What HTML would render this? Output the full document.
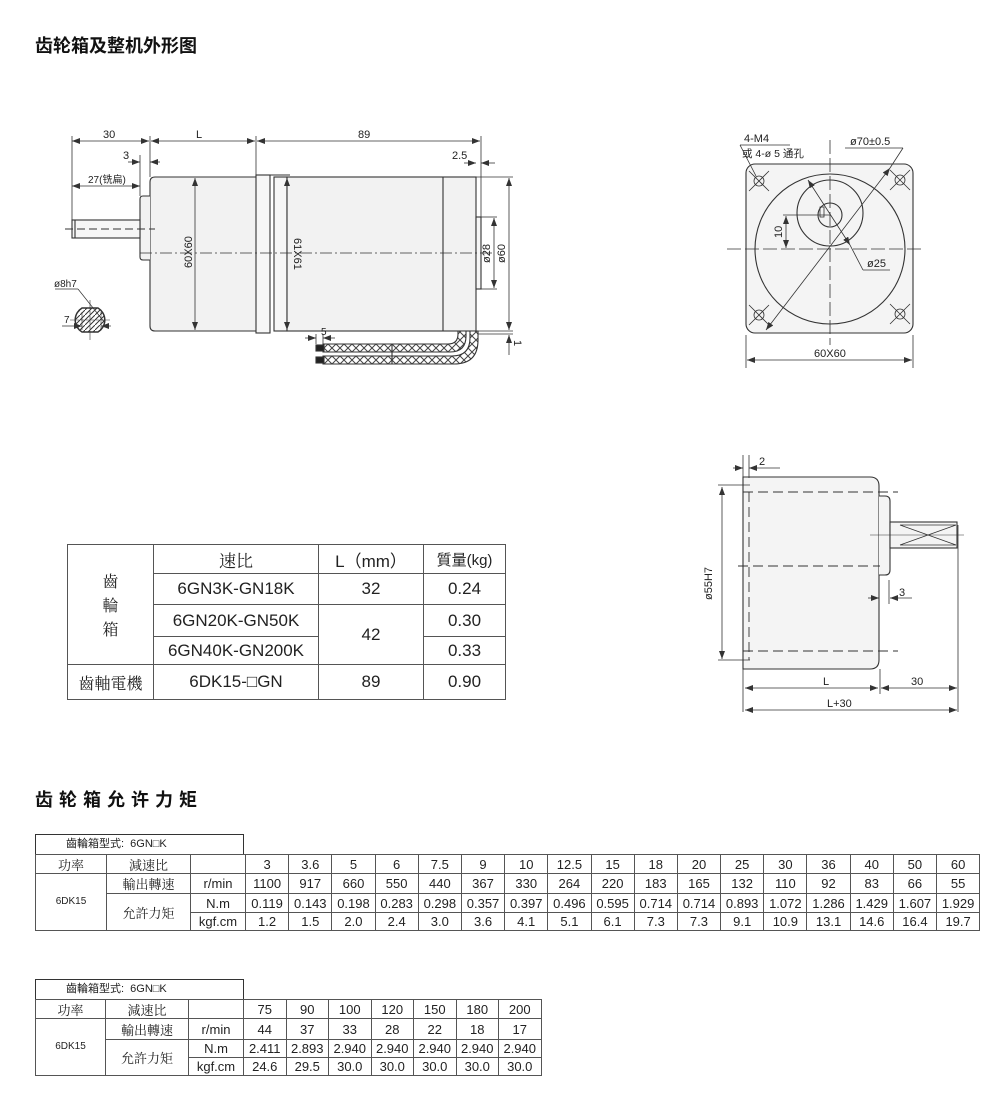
<!DOCTYPE html>
<html><head><meta charset="utf-8"><style>
body{margin:0;background:#fff;}
#w{position:relative;width:1000px;height:1098px;overflow:hidden;background:#fff;font-family:"Liberation Sans","Noto Sans CJK SC",sans-serif;color:#222;}
table{position:absolute;border-collapse:collapse;table-layout:fixed;}
td{border:1px solid #555;text-align:center;padding:0;white-space:nowrap;overflow:hidden;}
.t1{font-family:"Liberation Sans","Noto Sans CJK TC",sans-serif;border:1.5px solid #333;}
.t1 td{font-size:17px;}
.tb{font-size:13px;border:1.5px solid #333;}
.tb td{font-size:13px;line-height:1;}
.hdr{position:absolute;border:1.5px solid #333;border-bottom:none;font-size:11px;box-sizing:border-box;padding-left:30px;line-height:19px;font-family:"Liberation Sans","Noto Sans CJK TC",sans-serif;}
.cjk{font-family:"Noto Serif CJK SC","Noto Sans CJK TC",serif;}
</style></head><body><div id="w">
<svg width="1000" height="1098" style="position:absolute;left:0;top:0" font-family="Liberation Sans, Noto Sans CJK SC, sans-serif">
<defs>
<marker id="a" markerWidth="8" markerHeight="6" refX="8" refY="3" orient="auto-start-reverse" markerUnits="userSpaceOnUse"><path d="M0,0 L8,3 L0,6z" fill="#333"/></marker>
<pattern id="hx" width="8" height="8" patternUnits="userSpaceOnUse"><rect width="8" height="8" fill="#fff"/><path d="M0,0L8,8M8,0L0,8" stroke="#444" stroke-width="1"/></pattern>
<pattern id="hs" width="5" height="5" patternUnits="userSpaceOnUse"><path d="M0,5L5,0" stroke="#333" stroke-width="1"/></pattern>
</defs>
<text x="35" y="52" font-size="18" font-weight="bold" fill="#111" font-family="Noto Sans CJK SC, sans-serif">齿轮箱及整机外形图</text>
<text x="35" y="806" font-size="18" font-weight="bold" fill="#111" letter-spacing="6" font-family="Noto Sans CJK SC, sans-serif">齿轮箱允许力矩</text>

<g stroke="#333" stroke-width="1.1" fill="none">
<path d="M256,177 H155 Q150,177 150,182 V326 Q150,331 155,331 H256" fill="#f2f2f2"/>
<rect x="256" y="175" width="14" height="158" fill="#f6f6f6"/>
<rect x="274" y="177" width="13" height="154" fill="#f6f6f6"/>
<rect x="287" y="177" width="189" height="154" fill="#f2f2f2"/>
<line x1="443" y1="177" x2="443" y2="331"/>
<line x1="270" y1="175" x2="290" y2="175"/>
<path d="M150,196 H143 Q140,196 140,199 V257 Q140,260 143,260 H150" fill="#f2f2f2"/>
<rect x="72" y="220" width="68" height="18" fill="#f6f6f6"/>
<line x1="75" y1="220" x2="75" y2="238"/>
<rect x="476" y="217" width="5" height="72" fill="#f6f6f6"/>
<line x1="65" y1="229" x2="155" y2="229" stroke-dasharray="8,4"/>
<line x1="140" y1="253" x2="492" y2="253" stroke-dasharray="12,3,2,3" stroke-width="0.8"/>
<g stroke-width="0.8">
<line x1="72" y1="136" x2="72" y2="220"/><line x1="150" y1="136" x2="150" y2="177"/><line x1="256" y1="136" x2="256" y2="175"/><line x1="481" y1="136" x2="481" y2="217"/>
<line x1="140" y1="155" x2="140" y2="196"/>
<line x1="72" y1="141" x2="149" y2="141" marker-start="url(#a)" marker-end="url(#a)"/>
<line x1="151" y1="141" x2="255" y2="141" marker-start="url(#a)" marker-end="url(#a)"/>
<line x1="257" y1="141" x2="480" y2="141" marker-start="url(#a)" marker-end="url(#a)"/>
<line x1="128" y1="162" x2="140" y2="162" marker-end="url(#a)"/><line x1="160" y1="162" x2="150" y2="162" marker-end="url(#a)"/>
<line x1="72" y1="186" x2="140" y2="186" marker-start="url(#a)" marker-end="url(#a)"/>
<line x1="195" y1="178" x2="195" y2="330" marker-start="url(#a)" marker-end="url(#a)"/>
<line x1="287" y1="178" x2="287" y2="330" marker-start="url(#a)" marker-end="url(#a)"/>
<line x1="464" y1="163" x2="476" y2="163" marker-end="url(#a)"/><line x1="495" y1="163" x2="481" y2="163" marker-end="url(#a)"/>
<line x1="481" y1="217" x2="497" y2="217"/><line x1="481" y1="289" x2="497" y2="289"/>
<line x1="494" y1="218" x2="494" y2="288" marker-start="url(#a)" marker-end="url(#a)"/>
<line x1="476" y1="177" x2="513" y2="177"/><line x1="476" y1="331" x2="513" y2="331"/><line x1="476" y1="334" x2="513" y2="334"/>
<line x1="509" y1="178" x2="509" y2="330" marker-start="url(#a)" marker-end="url(#a)"/>
<line x1="509" y1="355" x2="509" y2="335" marker-end="url(#a)"/>
<line x1="305" y1="338" x2="316" y2="338" marker-end="url(#a)"/><line x1="335" y1="338" x2="323" y2="338" marker-end="url(#a)"/>
<line x1="316" y1="334" x2="316" y2="344"/><line x1="323" y1="334" x2="323" y2="344"/>
</g>
<path d="M323,344 H448 Q458,344 458,334 V331 H466 V336 Q466,352 450,352 H323 Z" fill="url(#hx)"/>
<path d="M323,356 H452 Q470,356 470,338 V331 H478 V340 Q478,364 454,364 H323 Z" fill="url(#hx)"/>
<rect x="316" y="345" width="8" height="6" fill="#222"/><rect x="316" y="357" width="8" height="6" fill="#222"/>
<line x1="392" y1="344" x2="392" y2="364"/>
<path d="M82,308 A14,14 0 0,0 82,332 H98 A14,14 0 0,0 98,308 Z" fill="url(#hs)" stroke-width="1.5"/>
<line x1="70" y1="320" x2="110" y2="320" stroke-width="0.6"/><line x1="90" y1="300" x2="90" y2="340" stroke-width="0.6"/>
<line x1="55" y1="289" x2="78" y2="289" stroke-width="0.7"/><line x1="78" y1="289" x2="105" y2="323" stroke-width="0.7"/>
<line x1="62" y1="326" x2="82" y2="326" stroke-width="0.7" marker-end="url(#a)"/><line x1="111" y1="326" x2="101" y2="326" stroke-width="0.7" marker-end="url(#a)"/>
<line x1="82" y1="312" x2="82" y2="330" stroke-width="0.6"/><line x1="101" y1="312" x2="101" y2="330" stroke-width="0.6"/>

<rect x="746" y="164" width="167" height="169" rx="9" fill="#f4f4f4"/>
<circle cx="830" cy="249" r="75"/>
<circle cx="830" cy="213" r="33"/>
<circle cx="830" cy="215" r="12"/>
<rect x="820" y="207" width="4" height="10" stroke-width="0.8"/>
<line x1="727" y1="249" x2="925" y2="249" stroke-dasharray="14,4" stroke-width="0.8"/>
<line x1="830" y1="140" x2="830" y2="345" stroke-dasharray="14,4" stroke-width="0.8"/>
<g stroke-width="0.8">
<circle cx="759" cy="181" r="5"/><circle cx="900" cy="180" r="5"/><circle cx="759" cy="315" r="5"/><circle cx="900" cy="314" r="5"/>
<path d="M749,171L769,191M769,171L749,191M890,170L910,190M910,170L890,190M749,305L769,325M769,305L749,325M890,304L910,324M910,304L890,324"/>
<line x1="766" y1="330" x2="890" y2="168" marker-start="url(#a)" marker-end="url(#a)"/>
<line x1="890" y1="168" x2="903" y2="148"/><line x1="845" y1="148" x2="903" y2="148"/>
<line x1="808" y1="180" x2="850" y2="245" marker-start="url(#a)" marker-end="url(#a)"/>
<line x1="850" y1="245" x2="863" y2="270"/><line x1="863" y1="270" x2="890" y2="270"/>
<line x1="740" y1="145" x2="756" y2="176"/><line x1="740" y1="145" x2="790" y2="145"/>
<line x1="783" y1="215" x2="830" y2="215"/>
<line x1="786" y1="216" x2="786" y2="248" marker-start="url(#a)" marker-end="url(#a)"/>
<line x1="746" y1="335" x2="746" y2="368"/><line x1="913" y1="335" x2="913" y2="368"/>
<line x1="747" y1="360" x2="912" y2="360" marker-start="url(#a)" marker-end="url(#a)"/>
</g>

<path d="M743,477 H870 Q879,477 879,486 V660 Q879,669 870,669 H743 Z" fill="#f4f4f4"/>
<path d="M879,496 H885 Q890,496 890,501 V570 Q890,575 885,575 H879" fill="#f4f4f4"/>
<rect x="890" y="522" width="67" height="26" fill="#f4f4f4"/>
<path d="M900,525 L956,545 M900,545 L956,525 M900,525 H956 M900,545 H956" stroke-width="0.8"/>
<line x1="870" y1="535" x2="964" y2="535" stroke-width="0.6"/>
<g stroke-dasharray="10,5" stroke-width="0.9">
<line x1="743" y1="492" x2="898" y2="492"/><line x1="743" y1="651" x2="898" y2="651"/>
<line x1="749" y1="492" x2="749" y2="660"/><line x1="738" y1="566" x2="880" y2="566"/>
</g>
<g stroke-width="0.8">
<line x1="718" y1="485" x2="750" y2="485"/><line x1="718" y1="660" x2="750" y2="660"/>
<line x1="722" y1="487" x2="722" y2="659" marker-start="url(#a)" marker-end="url(#a)"/>
<line x1="743" y1="455" x2="743" y2="712"/><line x1="749" y1="455" x2="749" y2="478"/>
<line x1="733" y1="468" x2="743" y2="468" marker-end="url(#a)"/><line x1="780" y1="468" x2="749" y2="468" marker-end="url(#a)"/>
<line x1="880" y1="669" x2="880" y2="694"/><line x1="889" y1="580" x2="889" y2="604"/>
<line x1="868" y1="598" x2="879" y2="598" marker-end="url(#a)"/><line x1="912" y1="598" x2="890" y2="598" marker-end="url(#a)"/>
<line x1="958" y1="525" x2="958" y2="712"/>
<line x1="745" y1="688" x2="878" y2="688" marker-start="url(#a)" marker-end="url(#a)"/>
<line x1="881" y1="688" x2="957" y2="688" marker-start="url(#a)" marker-end="url(#a)"/>
<line x1="745" y1="710" x2="957" y2="710" marker-start="url(#a)" marker-end="url(#a)"/>
</g>
</g>

<g font-size="11" fill="#222">
<text x="103" y="138">30</text><text x="196" y="138">L</text><text x="358" y="138">89</text>
<text x="123" y="159">3</text><text x="452" y="159">2.5</text>
<text x="88" y="183" font-size="10">27(铣扁)</text>
<text transform="translate(192,268) rotate(-90)">60X60</text>
<text transform="translate(294,238) rotate(90)">61X61</text>
<text transform="translate(490,263) rotate(-90)">ø28</text>
<text transform="translate(505,263) rotate(-90)">ø60</text>
<text x="321" y="335" font-size="10">5</text>
<text transform="translate(514,340) rotate(90)">1</text>
<text x="54" y="287" font-size="10">ø8h7</text><text x="64" y="323" font-size="10">7</text>
<text x="744" y="142">4-M4</text><text x="742" y="157" font-size="10.5">或 4-ø 5 通孔</text>
<text x="850" y="145">ø70±0.5</text>
<text x="867" y="267">ø25</text>
<text transform="translate(782,238) rotate(-90)">10</text>
<text x="814" y="357">60X60</text>
<text x="759" y="465">2</text>
<text transform="translate(712,600) rotate(-90)">ø55H7</text>
<text x="899" y="596">3</text>
<text x="823" y="685">L</text><text x="911" y="685">30</text><text x="827" y="707">L+30</text>
</g>
</svg>

<table class="t1" style="left:67px;top:544px;width:438px;">
<colgroup><col style="width:86px"><col style="width:165px"><col style="width:105px"><col style="width:82px"></colgroup>
<tr style="height:29px"><td rowspan="4" class="cjk" style="line-height:24px;font-size:16px">齒<br>輪<br>箱</td><td class="cjk">速比</td><td>L（mm）</td><td style="font-size:15px">質量(kg)</td></tr>
<tr style="height:31px"><td>6GN3K-GN18K</td><td>32</td><td>0.24</td></tr>
<tr style="height:32px"><td>6GN20K-GN50K</td><td rowspan="2">42</td><td>0.30</td></tr>
<tr style="height:28px"><td>6GN40K-GN200K</td><td>0.33</td></tr>
<tr style="height:35px"><td class="cjk" style="font-size:16px">齒軸電機</td><td>6DK15-□GN</td><td>89</td><td>0.90</td></tr>
</table>

<div class="hdr" style="left:35px;top:834px;width:209px;height:21px;">齒輪箱型式:&nbsp;&nbsp;6GN□K</div>
<table class="tb" style="left:35px;top:854px;width:944px;">
<colgroup><col style="width:71px"><col style="width:84px"><col style="width:55px"><col span="17" style="width:43.2px"></colgroup>
<tr style="height:19px"><td class="cjk">功率</td><td class="cjk">減速比</td><td></td><td>3</td><td>3.6</td><td>5</td><td>6</td><td>7.5</td><td>9</td><td>10</td><td>12.5</td><td>15</td><td>18</td><td>20</td><td>25</td><td>30</td><td>36</td><td>40</td><td>50</td><td>60</td></tr>
<tr style="height:20px"><td rowspan="3" style="font-size:10px">6DK15</td><td class="cjk">輸出轉速</td><td>r/min</td><td>1100</td><td>917</td><td>660</td><td>550</td><td>440</td><td>367</td><td>330</td><td>264</td><td>220</td><td>183</td><td>165</td><td>132</td><td>110</td><td>92</td><td>83</td><td>66</td><td>55</td></tr>
<tr style="height:19px"><td rowspan="2" class="cjk">允許力矩</td><td>N.m</td><td>0.119</td><td>0.143</td><td>0.198</td><td>0.283</td><td>0.298</td><td>0.357</td><td>0.397</td><td>0.496</td><td>0.595</td><td>0.714</td><td>0.714</td><td>0.893</td><td>1.072</td><td>1.286</td><td>1.429</td><td>1.607</td><td>1.929</td></tr>
<tr style="height:18px"><td>kgf.cm</td><td>1.2</td><td>1.5</td><td>2.0</td><td>2.4</td><td>3.0</td><td>3.6</td><td>4.1</td><td>5.1</td><td>6.1</td><td>7.3</td><td>7.3</td><td>9.1</td><td>10.9</td><td>13.1</td><td>14.6</td><td>16.4</td><td>19.7</td></tr>
</table>

<div class="hdr" style="left:35px;top:979px;width:209px;height:21px;">齒輪箱型式:&nbsp;&nbsp;6GN□K</div>
<table class="tb" style="left:35px;top:999px;width:506px;">
<colgroup><col style="width:70px"><col style="width:83px"><col style="width:55px"><col span="7" style="width:42.5px"></colgroup>
<tr style="height:19px"><td class="cjk">功率</td><td class="cjk">減速比</td><td></td><td>75</td><td>90</td><td>100</td><td>120</td><td>150</td><td>180</td><td>200</td></tr>
<tr style="height:21px"><td rowspan="3" style="font-size:10px">6DK15</td><td class="cjk">輸出轉速</td><td>r/min</td><td>44</td><td>37</td><td>33</td><td>28</td><td>22</td><td>18</td><td>17</td></tr>
<tr style="height:18px"><td rowspan="2" class="cjk">允許力矩</td><td>N.m</td><td>2.411</td><td>2.893</td><td>2.940</td><td>2.940</td><td>2.940</td><td>2.940</td><td>2.940</td></tr>
<tr style="height:18px"><td>kgf.cm</td><td>24.6</td><td>29.5</td><td>30.0</td><td>30.0</td><td>30.0</td><td>30.0</td><td>30.0</td></tr>
</table>
</div></body></html>
